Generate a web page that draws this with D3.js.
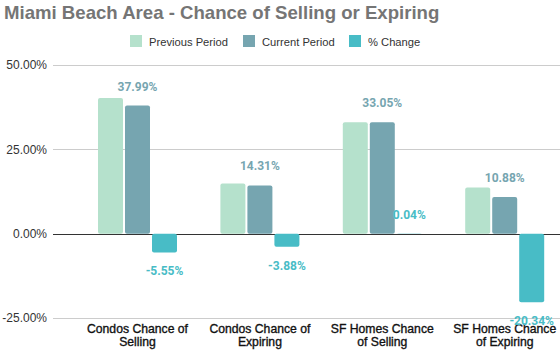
<!DOCTYPE html>
<html><head><meta charset="utf-8">
<script src="https://cdn.jsdelivr.net/npm/d3@7"></script>
<style>body{margin:0;background:#fff}svg{display:block}</style>
</head><body>
<svg id="c" width="560" height="355"></svg>
<script>
const categories = [["Condos Chance of","Selling"],["Condos Chance of","Expiring"],["SF Homes Chance","of Selling"],["SF Homes Chance","of Expiring"]];
const seriesNames = ["Previous Period","Current Period","% Change"];
const previousPeriod = [40.22, 14.89, 33.04, 13.66];
const currentPeriod = [37.99, 14.31, 33.05, 10.88];
const pctChange = [-5.55, -3.88, 0.04, -20.34];
const yTicks = [-25, 0, 25, 50];
const colors = ["#b5e1cc","#76a5b0","#48bcc6"];
const labelColors = [null, "#76a5b0", "#48bcc6"];

const pct = d => (d < 0 ? "-" : "") + Math.abs(d).toFixed(2) + "%";

const svg = d3.select("#c");
const keys = categories.map(c => c.join(" "));
const x0 = d3.scaleBand().domain(keys).range([76.3, 565.9]);
const x1 = d3.scaleBand().domain(seriesNames).range([0, 79]).paddingInner(2/27);
const y = d3.scaleLinear().domain([-25, 50]).range([318, 65]);

// title
svg.append("text").attr("x", 4).attr("y", 19)
  .attr("font-family", "Liberation Sans, Arial, sans-serif").attr("font-weight", "bold")
  .attr("font-size", 18.6).attr("fill", "#757575")
  .text("Miami Beach Area - Chance of Selling or Expiring");

// gridlines
svg.append("g").selectAll("line").data(yTicks).join("line")
  .attr("x1", 53).attr("x2", 560)
  .attr("y1", d => Math.round(y(d)) + 0.5).attr("y2", d => Math.round(y(d)) + 0.5)
  .attr("stroke", d => d === 0 ? "#333" : "#cccccc").attr("stroke-width", 1);

// y axis labels
const yAxis = d3.axisLeft(y).tickValues(yTicks).tickSize(0).tickPadding(0).tickFormat(pct);
const ya = svg.append("g").attr("transform", "translate(47,0)").call(yAxis);
ya.select(".domain").remove();
ya.selectAll("text").attr("font-family", "Liberation Sans, Arial, sans-serif")
  .attr("font-size", 12).attr("fill", "#333");

// x axis labels
const xa = svg.append("g");
categories.forEach((c, i) => {
  const cx = x0(keys[i]) + x0.bandwidth() / 2;
  const t = xa.append("text").attr("text-anchor", "middle")
    .attr("font-family", "Liberation Sans, Arial, sans-serif")
    .attr("font-size", 12.2).attr("fill", "#111")
    .attr("stroke", "#111").attr("stroke-width", 0.35);
  c.forEach((line, j) => t.append("tspan").attr("x", cx).attr("y", 333 + j * 13).text(line));
});

// bars
const seriesData = [previousPeriod, currentPeriod, pctChange];
const gx = d => x0(keys[d]) + x0.bandwidth() / 2 - 39.5;
seriesData.forEach((vals, s) => {
  const g = svg.append("g");
  g.selectAll("rect").data(vals).join("rect")
    .attr("x", (d, i) => gx(i) + x1(seriesNames[s]))
    .attr("width", x1.bandwidth())
    .attr("y", d => y(Math.max(0, d)))
    .attr("height", d => Math.abs(y(d) - y(0)))
    .attr("rx", 2).attr("fill", colors[s]);
  if (labelColors[s]) {
    g.selectAll("text").data(vals).join("text")
      .attr("x", (d, i) => gx(i) + x1(seriesNames[s]) + x1.bandwidth() / 2)
      .attr("y", d => d >= 0 ? y(d) - 15 : y(d) + 23)
      .attr("text-anchor", "middle")
      .attr("font-family", "Roboto, sans-serif").attr("font-weight", "bold")
      .attr("font-size", 12).attr("fill", labelColors[s])
      .text(pct);
  }
});

// legend
const legX = [130, 243, 349];
const lg = svg.append("g");
seriesNames.forEach((n, i) => {
  lg.append("rect").attr("x", legX[i]).attr("y", 35).attr("width", 12).attr("height", 12).attr("fill", colors[i]);
  lg.append("text").attr("x", legX[i] + 19).attr("y", 45.5)
    .attr("font-family", "Liberation Sans, Arial, sans-serif").attr("font-size", 11.2).attr("fill", "#333").text(n);
});
</script>
</body></html>
